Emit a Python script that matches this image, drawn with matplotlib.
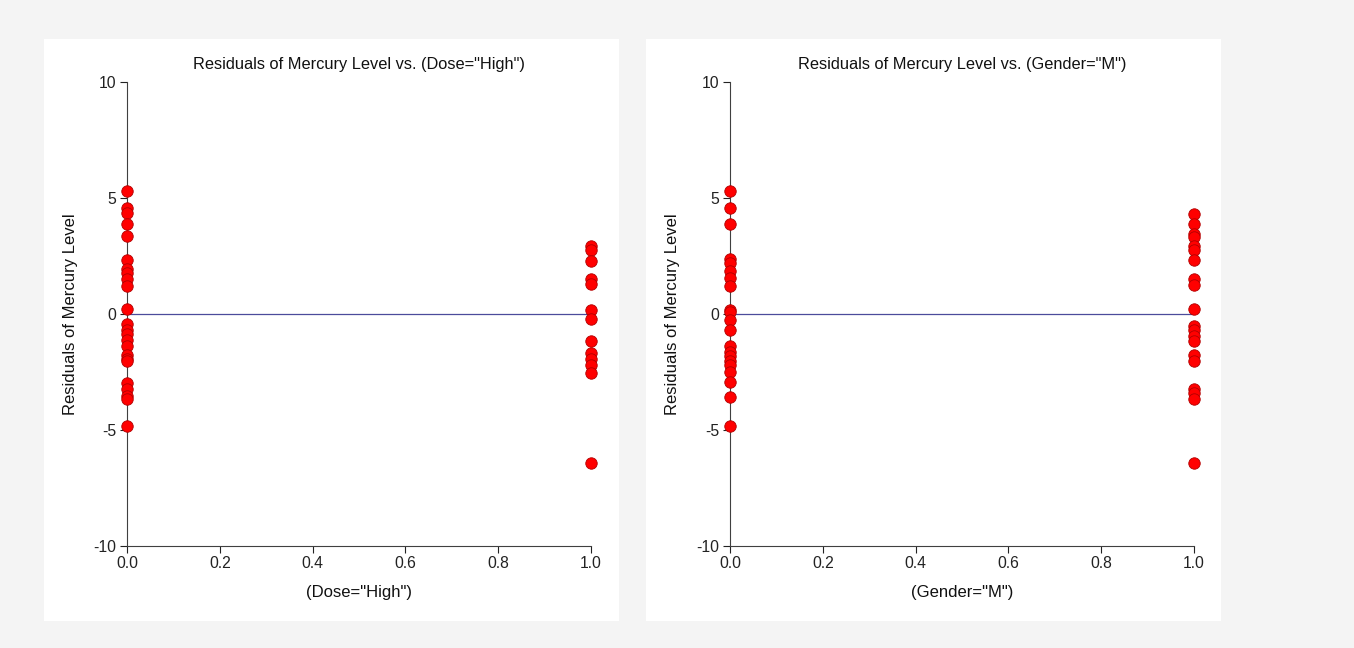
import matplotlib
matplotlib.use("Agg")
import matplotlib.pyplot as plt
from matplotlib.patches import Rectangle

plt.rcParams['font.family'] = ['Liberation Sans', 'DejaVu Sans']
plt.rcParams['axes.unicode_minus'] = False

# Left panel: residuals vs (Dose="High")
dose_x0 = [5.29, 4.58, 4.36, 3.90, 3.35, 2.32, 1.92, 1.78, 1.49, 1.20, 0.22,
           -0.45, -0.67, -0.88, -1.10, -1.39, -1.75, -1.96, -2.03, -2.97,
           -3.25, -3.54, -3.66, -4.81]
dose_x1 = [2.92, 2.75, 2.28, 1.52, 1.31, 0.19, -0.21, -1.17, -1.67, -1.96,
           -2.18, -2.54, -6.41]

# Right panel: residuals vs (Gender="M")
gender_x0 = [5.29, 4.58, 3.90, 2.35, 2.21, 1.85, 1.56, 1.20, 0.19, 0.08,
             -0.24, -0.67, -1.36, -1.65, -1.82, -2.03, -2.18, -2.51, -2.94,
             -3.59, -4.81]
gender_x1 = [4.29, 3.86, 3.43, 3.33, 2.92, 2.78, 2.32, 1.49, 1.27, 0.22,
             -0.50, -0.67, -0.93, -1.17, -1.75, -2.03, -3.22, -3.40, -3.66,
             -6.41]

titles = ['Residuals of Mercury Level vs. (Dose="High")',
          'Residuals of Mercury Level vs. (Gender="M")']
xlabels = ['(Dose="High")', '(Gender="M")']
ylabel = 'Residuals of Mercury Level'
xticks = [0.0, 0.2, 0.4, 0.6, 0.8, 1.0]
yticks = [-10, -5, 0, 5, 10]

W, H = 1354, 648
fig = plt.figure(figsize=(W / 100, H / 100), dpi=100)
fig.patch.set_facecolor('#f4f4f4')

panels = [(44, 39, 575, 582), (646, 39, 575, 582)]
axes_px = [(127, 82, 464, 464), (730, 82, 464, 464)]
data = [(dose_x0, dose_x1), (gender_x0, gender_x1)]

for i in range(2):
    px, py, pw, ph = panels[i]
    fig.patches.append(Rectangle((px / W, 1 - (py + ph) / H), pw / W, ph / H,
                                 transform=fig.transFigure, facecolor='white',
                                 edgecolor='none', zorder=-5))
    ax_l, ax_t, ax_w, ax_h = axes_px[i]
    ax = fig.add_axes([ax_l / W, 1 - (ax_t + ax_h) / H, ax_w / W, ax_h / H])
    ax.set_zorder(2)
    ax.set_facecolor('none')
    ax.set_xlim(0, 1)
    ax.set_ylim(-10, 10)
    for s in ['top', 'right']:
        ax.spines[s].set_visible(False)
    for s in ['left', 'bottom']:
        ax.spines[s].set_color('#404040')
        ax.spines[s].set_linewidth(0.8)
    ax.set_xticks(xticks)
    ax.set_xticklabels([f'{t:.1f}' for t in xticks])
    ax.set_yticks(yticks)
    ax.tick_params(axis='both', labelsize=11.3, colors='#222222', length=5,
                   width=0.8, pad=2.5)
    ax.axhline(0, color='#4b4b9b', linewidth=0.9, zorder=2)
    x0, x1 = data[i]
    ax.scatter([0] * len(x0), x0, s=68, color='#ff0000', edgecolors='#b00000',
               linewidths=0.6, zorder=3, clip_on=False)
    ax.scatter([1] * len(x1), x1, s=68, color='#ff0000', edgecolors='#b00000',
               linewidths=0.6, zorder=3, clip_on=False)
    fig.text((ax_l + ax_w / 2) / W, 1 - 65 / H, titles[i], fontsize=11.8,
             color='#111111', ha='center', va='center')
    fig.text((ax_l + ax_w / 2) / W, 1 - 592 / H, xlabels[i], fontsize=12,
             color='#111111', ha='center', va='center')
    fig.text((px + 27) / W, 1 - 314 / H, ylabel, fontsize=12,
             color='#111111', ha='center', va='center', rotation=90)

fig.savefig('out.png', dpi=100, facecolor=fig.get_facecolor())
